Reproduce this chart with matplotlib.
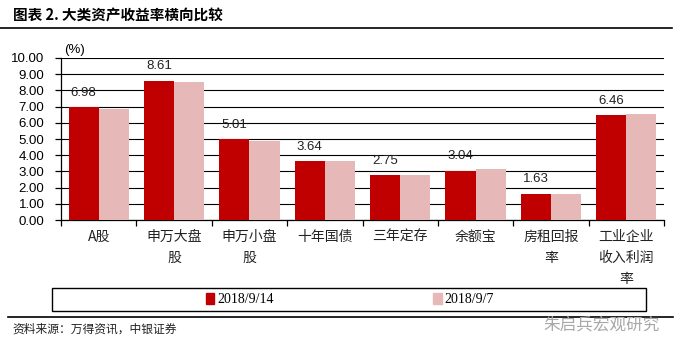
import matplotlib
matplotlib.use("Agg")
import matplotlib.pyplot as plt
import numpy as np
from matplotlib.patches import Rectangle
from matplotlib.lines import Line2D

plt.rcParams['font.family'] = ['Liberation Sans', 'Noto Sans CJK SC', 'DejaVu Sans']

# data
categories = ["A股", "申万大盘\n股", "申万小盘\n股", "十年国债", "三年定存",
              "余额宝", "房租回报\n率", "工业企业\n收入利润\n率"]
series_names = ["2018/9/14", "2018/9/7"]
vals_0914 = [6.98, 8.61, 5.01, 3.64, 2.75, 3.04, 1.63, 6.46]
vals_0907 = [6.86, 8.53, 4.89, 3.62, 2.75, 3.13, 1.60, 6.52]
yticks = [0, 1, 2, 3, 4, 5, 6, 7, 8, 9, 10]

RED = "#C00000"
PINK = "#E6B9B8"
W, H = 682, 354

fig = plt.figure(figsize=(W / 100, H / 100), dpi=100)
ax = fig.add_axes([61 / W, 1 - 220 / H, (664 - 61) / W, (220 - 58) / H])

x = np.arange(len(categories))
bw = 0.4
ax.bar(x - bw / 2, vals_0914, bw, color=RED, zorder=3)
ax.bar(x + bw / 2, vals_0907, bw, color=PINK, zorder=3)

for xi, v in zip(x, vals_0914):
    ax.annotate(f"{v:.2f}", (xi - bw / 2, v), xytext=(0, 6), textcoords="offset points",
                ha="center", va="bottom", fontsize=9.5, color="#222222")

ax.set_xlim(-0.5, len(categories) - 0.5)
ax.set_ylim(0, 10)
ax.set_yticks(yticks)
ax.set_yticklabels([f"{t:.2f}" for t in yticks], fontsize=9.5)
ax.yaxis.grid(True, color="black", linewidth=0.8, zorder=0)
ax.set_axisbelow(True)

ax.set_xticks(x)
ax.set_xticklabels(categories, fontsize=10, family=['Noto Sans CJK SC'], linespacing=1.65,
                   va="top", color="#222222")
ax.set_xticks(np.arange(-0.5, len(categories)), minor=True)
ax.tick_params(axis="x", which="major", length=0, pad=7)
ax.tick_params(axis="x", which="minor", length=4, width=0.9, direction="out", color="black")
ax.tick_params(axis="y", length=4, width=0.9, direction="out", pad=8)

for s in ["top", "right"]:
    ax.spines[s].set_visible(False)
for s in ["left", "bottom"]:
    ax.spines[s].set_color("black")
    ax.spines[s].set_linewidth(0.9)

fig.text(64 / W, 1 - 50 / H, "(%)", fontsize=9.5, va="center", ha="left")

# title and rules
fig.text(13 / W, 1 - 15 / H, "图表 2. 大类资产收益率横向比较", fontsize=10.5, fontweight="bold",
         family=['Noto Sans CJK SC'], va="center", ha="left")
fig.add_artist(Line2D([0, 672 / W], [1 - 28 / H, 1 - 28 / H], color="black", linewidth=1.2))
fig.add_artist(Line2D([8 / W, 673 / W], [1 - 317 / H, 1 - 317 / H], color="black", linewidth=1.2))

# legend frame + legend
fig.add_artist(Rectangle((52 / W, 1 - 311 / H), (646 - 52) / W, (311 - 288) / H,
                         transform=fig.transFigure, fill=False, edgecolor="black", linewidth=1.0))
handles = [Rectangle((0, 0), 1, 1, color=RED), Rectangle((0, 0), 1, 1, color=PINK)]
fig.legend(handles, series_names, loc="center", bbox_to_anchor=(350 / W, 1 - 299.5 / H),
           ncol=2, frameon=False, handlelength=0.6, handleheight=0.8, handletextpad=0.2,
           columnspacing=11.5, prop={"family": "Liberation Serif", "size": 10})

fig.text(12 / W, 1 - 329 / H, "资料来源：万得资讯，中银证券", fontsize=8.5, style="italic",
         family=['Noto Sans CJK SC'], va="center", ha="left", color="#222222")
fig.text(660 / W, 1 - 325 / H, "朱启兵宏观研究", fontsize=12, color="#a8a8a8",
         family=['Noto Sans CJK SC'], va="center", ha="right")

fig.savefig("out.png", dpi=100)
